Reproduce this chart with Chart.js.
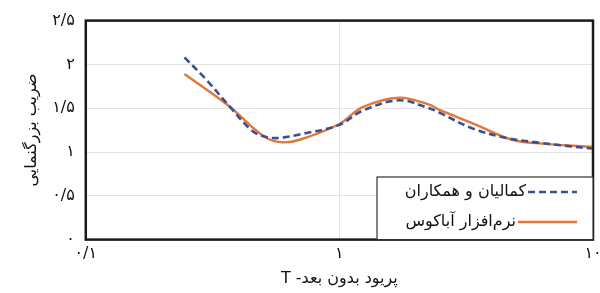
<!DOCTYPE html>
<html>
<head>
<meta charset="utf-8">
<script src="https://cdn.jsdelivr.net/npm/chart.js@4.4.0/dist/chart.umd.min.js"></script>
<style>
  html, body { margin: 0; padding: 0; background: #fff; overflow: hidden; }
  #wrap { width: 612px; height: 293px; position: relative; }
</style>
</head>
<body>
<div id="wrap"><canvas id="chart" dir="rtl"></canvas></div>
<script>
// ---- data ----
const seriesNames = ['کمالیان و همکاران', 'نرم‌افزار آباکوس'];

const kamalianT = [0.245, 0.30, 0.369, 0.454, 0.516, 0.581, 0.697, 1.0, 1.23, 1.72, 2.26, 2.48, 3.34, 4.54, 5.97, 7.83, 9.9];
const kamalianY = [2.08, 1.82, 1.52, 1.24, 1.17, 1.16, 1.20, 1.31, 1.47, 1.59, 1.50, 1.45, 1.27, 1.16, 1.11, 1.07, 1.04];

const abaqusT = [0.245, 0.369, 0.443, 0.516, 0.597, 0.697, 1.0, 1.23, 1.72, 2.26, 2.48, 3.34, 4.80, 6.71, 9.9];
const abaqusY = [1.89, 1.52, 1.31, 1.16, 1.11, 1.14, 1.32, 1.51, 1.62, 1.54, 1.48, 1.33, 1.14, 1.09, 1.06];

const xTicks = [0.1, 1, 10];
const yTicks = [0, 0.5, 1, 1.5, 2, 2.5];

const xTitle = 'پریود بدون بعد- T';
const yTitle = 'ضریب بزرگنمایی';

// ---- helpers ----
const faFont = "'DejaVu Sans', sans-serif";
const gridColor = '#e3e3e3';

function toPersian(v) {
    const s = String(v).replace('.', '/');
    return s.replace(/[0-9]/g, d => '۰۱۲۳۴۵۶۷۸۹'[d]);
}

function pairs(xs, ys) {
    return xs.map((x, i) => ({ x, y: ys[i] }));
}

// frame around plot area
const framePlugin = {
    id: 'frame',
    afterDatasetsDraw(chart) {
        const { ctx, chartArea: a } = chart;
        ctx.save();
        ctx.strokeStyle = '#1a1a1a';
        ctx.lineWidth = 2.5;
        ctx.strokeRect(a.left, a.top, a.right - a.left, a.bottom - a.top);
        ctx.restore();
    }
};

// boxed legend in lower right, sample to the right of the text
const legendPlugin = {
    id: 'boxLegend',
    afterDraw(chart) {
        const { ctx, chartArea: a } = chart;
        const boxL = 377, boxT = 177;
        ctx.save();
        ctx.fillStyle = '#fff';
        ctx.fillRect(boxL, boxT, a.right - boxL, a.bottom - boxT);
        ctx.strokeStyle = '#333';
        ctx.lineWidth = 1.2;
        ctx.strokeRect(boxL, boxT, a.right - boxL, a.bottom - boxT);

        const rows = [boxT + 15, boxT + 45];
        const sampleStarts = [528, 518];
        chart.data.datasets.forEach((ds, i) => {
            const y = rows[i];
            ctx.strokeStyle = ds.borderColor;
            ctx.lineWidth = ds.borderWidth;
            ctx.setLineDash(ds.borderDash || []);
            ctx.beginPath();
            ctx.moveTo(sampleStarts[i], y);
            ctx.lineTo(577, y);
            ctx.stroke();
            ctx.setLineDash([]);
            ctx.fillStyle = '#111';
            ctx.font = '16px ' + faFont;
            ctx.textAlign = 'right';
            ctx.textBaseline = 'middle';
            ctx.fillText(ds.label, sampleStarts[i] - 2, y);
        });
        ctx.restore();
    }
};

new Chart(document.getElementById('chart'), {
    type: 'line',
    data: {
        datasets: [
            {
                label: seriesNames[0],
                data: pairs(kamalianT, kamalianY),
                borderColor: '#3b4f91',
                borderWidth: 2.6,
                borderDash: [7, 4],
                pointRadius: 0,
                tension: 0.35,
                fill: false
            },
            {
                label: seriesNames[1],
                data: pairs(abaqusT, abaqusY),
                borderColor: '#e2773a',
                borderWidth: 2.4,
                pointRadius: 0,
                tension: 0.35,
                fill: false
            }
        ]
    },
    options: {
        responsive: true,
        maintainAspectRatio: false,
        animation: false,
        layout: { padding: { left: 22, right: 19, top: 16, bottom: 5 } },
        plugins: {
            legend: { display: false },
            tooltip: { enabled: false }
        },
        scales: {
            x: {
                type: 'logarithmic',
                min: 0.1,
                max: 10,
                afterBuildTicks: axis => { axis.ticks = xTicks.map(v => ({ value: v })); },
                ticks: {
                    color: '#111',
                    font: { family: faFont, size: 16 },
                    padding: 5,
                    maxRotation: 0,
                    callback: v => toPersian(v)
                },
                grid: { color: gridColor, drawTicks: false },
                border: { display: false },
                title: {
                    display: true,
                    text: xTitle,
                    color: '#111',
                    font: { family: faFont, size: 16 },
                    padding: { top: 0, bottom: 0 }
                }
            },
            y: {
                min: 0,
                max: 2.5,
                afterBuildTicks: axis => { axis.ticks = yTicks.map(v => ({ value: v })); },
                ticks: {
                    color: '#111',
                    font: { family: faFont, size: 16 },
                    padding: 11,
                    callback: v => toPersian(v)
                },
                grid: { color: gridColor, drawTicks: false },
                border: { display: false },
                title: {
                    display: true,
                    text: yTitle,
                    color: '#111',
                    font: { family: faFont, size: 16 },
                    padding: { top: 0, bottom: 0 }
                }
            }
        }
    },
    plugins: [framePlugin, legendPlugin]
});
</script>
</body>
</html>
